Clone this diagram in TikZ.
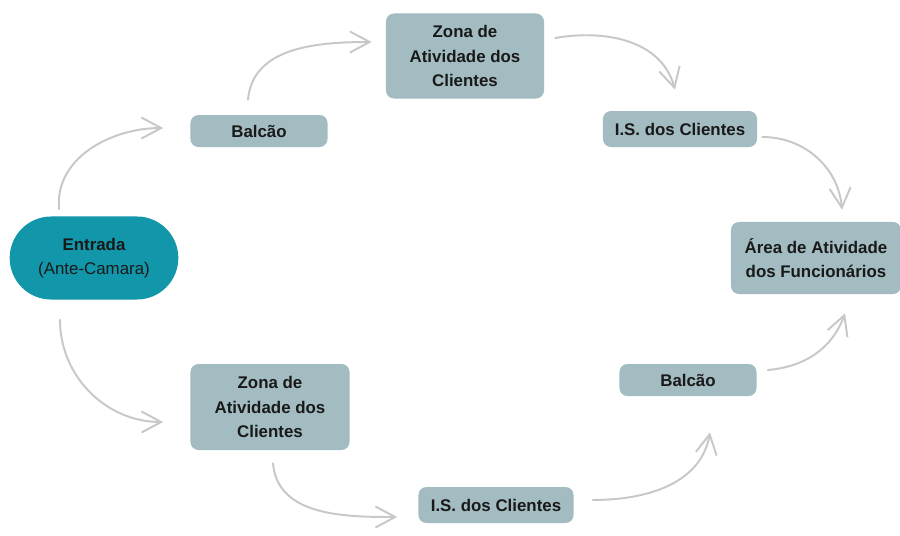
\documentclass[tikz,border=0pt]{standalone}
\usepackage{fontspec}
\setmainfont{Liberation Sans}
\usetikzlibrary{arrows.meta, shapes.misc, positioning}
\definecolor{salaCor}{RGB}{162,188,193}
\definecolor{entradaCor}{RGB}{17,150,170}
\definecolor{setaCor}{RGB}{200,200,200}
\tikzset{>={Straight Barb[length=14pt,width=15pt]}, font=\bfseries\fontsize{12}{17.4}\selectfont}

\begin{document}
\begin{tikzpicture}[x=0.025cm,y=-0.025cm,
                sala/.style={rectangle,rounded corners=0.2cm,fill=salaCor,align=center,
                             inner sep=0pt,text=black!90},
                seta/.style={->,draw=setaCor,line width=1.4pt,line cap=round}]
\useasboundingbox (0,0) rectangle (900,535);

\node[rounded rectangle,fill=entradaCor,minimum width=4.45cm,minimum height=2.075cm,
      align=center,text=black!90] (entrada) at (94,258) {Entrada\\\mdseries(Ante-Camara)};

\node[sala,minimum width=3.425cm,minimum height=0.8cm]  (balcaoA) at (259,131) {Balcão};
\node[sala,minimum width=3.95cm,minimum height=2.125cm] (zonaA)   at (465,56)  {Zona de\\Atividade dos\\Clientes};
\node[sala,minimum width=3.85cm,minimum height=0.9cm]   (isA)     at (680,129) {I.S. dos Clientes};
\node[sala,minimum width=4.25cm,minimum height=1.8cm]   (area)    at (816,258) {Área de Atividade\\dos Funcionários};

\node[sala,minimum width=3.975cm,minimum height=2.15cm] (zonaB)   at (270,407) {Zona de\\Atividade dos\\Clientes};
\node[sala,minimum width=3.875cm,minimum height=0.9cm]  (isB)     at (496,505) {I.S. dos Clientes};
\node[sala,minimum width=3.425cm,minimum height=0.8cm]  (balcaoB) at (688,380) {Balcão};

% caminho de cima
\draw[seta] ([shift={(-35,-7)}]entrada.north) to[out=95,in=180] ([shift={(-27,-3)}]balcaoA.west);
\draw[seta] ([shift={(-11,-15)}]balcaoA.north) to[out=85,in=180] ([shift={(-14,-14)}]zonaA.west);
\draw[seta] ([shift={(11,-18)}]zonaA.east) to[out=10,in=105] ([shift={(-5,-21)}]isA.north);
\draw[seta] ([shift={(5,8)}]isA.east) to[out=0,in=95] ([shift={(26,-12)}]area.north);

% caminho de baixo
\draw[seta] ([shift={(-34,20)}]entrada.south) to[out=-90,in=180] ([shift={(-27,15)}]zonaB.west);
\draw[seta] ([shift={(3,13)}]zonaB.south) to[out=-85,in=180] ([shift={(-21,12)}]isB.west);
\draw[seta] ([shift={(19,-5)}]isB.east) to[out=0,in=-100] ([shift={(22,36)}]balcaoB.south);
\draw[seta] ([shift={(11,-10)}]balcaoB.east) to[out=5,in=-110] ([shift={(29,19)}]area.south);

\end{tikzpicture}
\end{document}
